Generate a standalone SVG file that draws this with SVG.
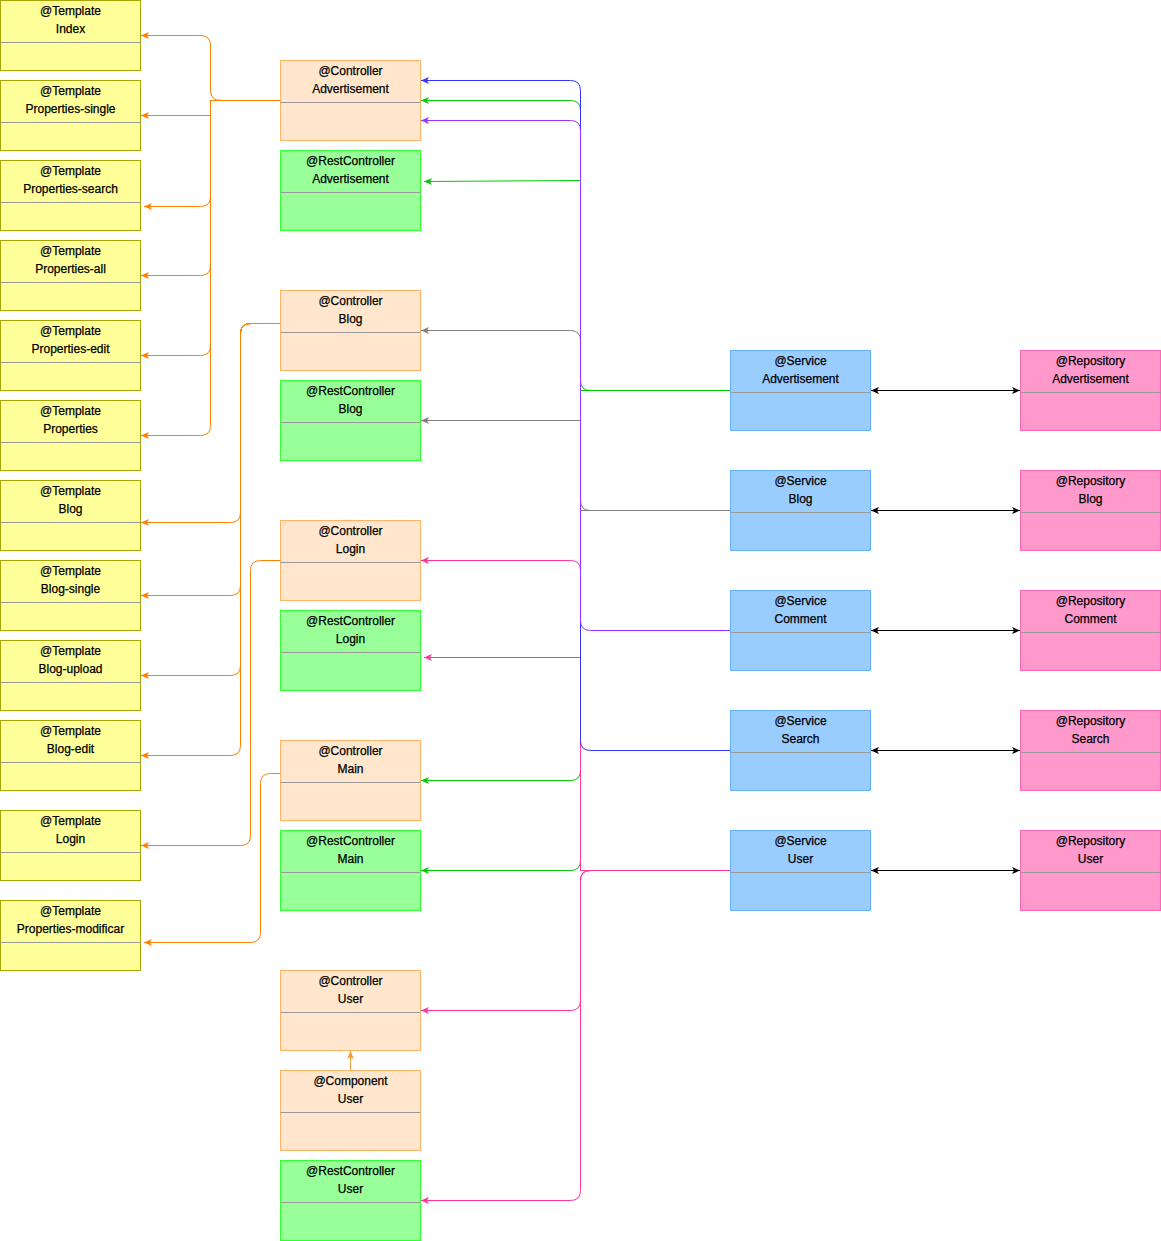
<svg xmlns="http://www.w3.org/2000/svg" width="1161" height="1241" viewBox="0 0 1161 1241">
<style>
  .n rect{stroke-width:1}
  .tpl rect{fill:#FFFF99;stroke:#A6A600}
  .ctl rect{fill:#FFE6CC;stroke:#FFB366}
  .rst rect{fill:#99FF99;stroke:#33FF33}
  .svc rect{fill:#99CCFF;stroke:#66B2FF}
  .rep rect{fill:#FF99CC;stroke:#FF66B3}
  .n line{stroke:#999999;stroke-width:1}
  .n text{font-family:"Liberation Sans",Arial,sans-serif;font-size:12px;fill:#000;stroke:#000;stroke-width:0.25;text-anchor:middle}
  #edges path{fill:none;stroke-width:1}
  .or{stroke:#FF8000}
  .gr{stroke:#00CC00}
  .gy{stroke:#808080}
  .pk{stroke:#FF3399}
  .bl{stroke:#3333FF}
  .pu{stroke:#9933FF}
  .bk{stroke:#000000}
  .lo{stroke:#FF9933}
</style>
<defs>
  <marker id="aOr" viewBox="0 0 8 8" refX="8" refY="4" markerWidth="8" markerHeight="8" markerUnits="userSpaceOnUse" orient="auto"><path d="M0,0.5 L8,4 L0,7.5 L2,4 Z" fill="#FF8000"/></marker>
  <marker id="aGr" viewBox="0 0 8 8" refX="8" refY="4" markerWidth="8" markerHeight="8" markerUnits="userSpaceOnUse" orient="auto"><path d="M0,0.5 L8,4 L0,7.5 L2,4 Z" fill="#00CC00"/></marker>
  <marker id="aGy" viewBox="0 0 8 8" refX="8" refY="4" markerWidth="8" markerHeight="8" markerUnits="userSpaceOnUse" orient="auto"><path d="M0,0.5 L8,4 L0,7.5 L2,4 Z" fill="#808080"/></marker>
  <marker id="aPk" viewBox="0 0 8 8" refX="8" refY="4" markerWidth="8" markerHeight="8" markerUnits="userSpaceOnUse" orient="auto"><path d="M0,0.5 L8,4 L0,7.5 L2,4 Z" fill="#FF3399"/></marker>
  <marker id="aBl" viewBox="0 0 8 8" refX="8" refY="4" markerWidth="8" markerHeight="8" markerUnits="userSpaceOnUse" orient="auto"><path d="M0,0.5 L8,4 L0,7.5 L2,4 Z" fill="#3333FF"/></marker>
  <marker id="aPu" viewBox="0 0 8 8" refX="8" refY="4" markerWidth="8" markerHeight="8" markerUnits="userSpaceOnUse" orient="auto"><path d="M0,0.5 L8,4 L0,7.5 L2,4 Z" fill="#9933FF"/></marker>
  <marker id="aBk" viewBox="0 0 8 8" refX="8" refY="4" markerWidth="8" markerHeight="8" markerUnits="userSpaceOnUse" orient="auto-start-reverse"><path d="M0,0.5 L8,4 L0,7.5 L2,4 Z" fill="#000000"/></marker>
  <marker id="aLo" viewBox="0 0 8 8" refX="8" refY="4" markerWidth="8" markerHeight="8" markerUnits="userSpaceOnUse" orient="auto"><path d="M0,0.5 L8,4 L0,7.5 L2,4 Z" fill="#FF9933"/></marker>
</defs>

<!-- Templates -->
<g id="t-index" class="n tpl"><rect x="0.5" y="0.5" width="140" height="70"/><line x1="0.5" y1="42.5" x2="140.5" y2="42.5"/><text x="70.5" y="15">@Template</text><text x="70.5" y="33">Index</text></g>
<g id="t-properties-single" class="n tpl"><rect x="0.5" y="80.5" width="140" height="70"/><line x1="0.5" y1="122.5" x2="140.5" y2="122.5"/><text x="70.5" y="95">@Template</text><text x="70.5" y="113">Properties-single</text></g>
<g id="t-properties-search" class="n tpl"><rect x="0.5" y="160.5" width="140" height="70"/><line x1="0.5" y1="202.5" x2="140.5" y2="202.5"/><text x="70.5" y="175">@Template</text><text x="70.5" y="193">Properties-search</text></g>
<g id="t-properties-all" class="n tpl"><rect x="0.5" y="240.5" width="140" height="70"/><line x1="0.5" y1="282.5" x2="140.5" y2="282.5"/><text x="70.5" y="255">@Template</text><text x="70.5" y="273">Properties-all</text></g>
<g id="t-properties-edit" class="n tpl"><rect x="0.5" y="320.5" width="140" height="70"/><line x1="0.5" y1="362.5" x2="140.5" y2="362.5"/><text x="70.5" y="335">@Template</text><text x="70.5" y="353">Properties-edit</text></g>
<g id="t-properties" class="n tpl"><rect x="0.5" y="400.5" width="140" height="70"/><line x1="0.5" y1="442.5" x2="140.5" y2="442.5"/><text x="70.5" y="415">@Template</text><text x="70.5" y="433">Properties</text></g>
<g id="t-blog" class="n tpl"><rect x="0.5" y="480.5" width="140" height="70"/><line x1="0.5" y1="522.5" x2="140.5" y2="522.5"/><text x="70.5" y="495">@Template</text><text x="70.5" y="513">Blog</text></g>
<g id="t-blog-single" class="n tpl"><rect x="0.5" y="560.5" width="140" height="70"/><line x1="0.5" y1="602.5" x2="140.5" y2="602.5"/><text x="70.5" y="575">@Template</text><text x="70.5" y="593">Blog-single</text></g>
<g id="t-blog-upload" class="n tpl"><rect x="0.5" y="640.5" width="140" height="70"/><line x1="0.5" y1="682.5" x2="140.5" y2="682.5"/><text x="70.5" y="655">@Template</text><text x="70.5" y="673">Blog-upload</text></g>
<g id="t-blog-edit" class="n tpl"><rect x="0.5" y="720.5" width="140" height="70"/><line x1="0.5" y1="762.5" x2="140.5" y2="762.5"/><text x="70.5" y="735">@Template</text><text x="70.5" y="753">Blog-edit</text></g>
<g id="t-login" class="n tpl"><rect x="0.5" y="810.5" width="140" height="70"/><line x1="0.5" y1="852.5" x2="140.5" y2="852.5"/><text x="70.5" y="825">@Template</text><text x="70.5" y="843">Login</text></g>
<g id="t-properties-modificar" class="n tpl"><rect x="0.5" y="900.5" width="140" height="70"/><line x1="0.5" y1="942.5" x2="140.5" y2="942.5"/><text x="70.5" y="915">@Template</text><text x="70.5" y="933">Properties-modificar</text></g>

<!-- Controllers -->
<g id="c-advertisement" class="n ctl"><rect x="280.5" y="60.5" width="140" height="80"/><line x1="280.5" y1="102.5" x2="420.5" y2="102.5"/><text x="350.5" y="75">@Controller</text><text x="350.5" y="93">Advertisement</text></g>
<g id="rc-advertisement" class="n rst"><rect x="280.5" y="150.5" width="140" height="80"/><line x1="280.5" y1="192.5" x2="420.5" y2="192.5"/><text x="350.5" y="165">@RestController</text><text x="350.5" y="183">Advertisement</text></g>
<g id="c-blog" class="n ctl"><rect x="280.5" y="290.5" width="140" height="80"/><line x1="280.5" y1="332.5" x2="420.5" y2="332.5"/><text x="350.5" y="305">@Controller</text><text x="350.5" y="323">Blog</text></g>
<g id="rc-blog" class="n rst"><rect x="280.5" y="380.5" width="140" height="80"/><line x1="280.5" y1="422.5" x2="420.5" y2="422.5"/><text x="350.5" y="395">@RestController</text><text x="350.5" y="413">Blog</text></g>
<g id="c-login" class="n ctl"><rect x="280.5" y="520.5" width="140" height="80"/><line x1="280.5" y1="562.5" x2="420.5" y2="562.5"/><text x="350.5" y="535">@Controller</text><text x="350.5" y="553">Login</text></g>
<g id="rc-login" class="n rst"><rect x="280.5" y="610.5" width="140" height="80"/><line x1="280.5" y1="652.5" x2="420.5" y2="652.5"/><text x="350.5" y="625">@RestController</text><text x="350.5" y="643">Login</text></g>
<g id="c-main" class="n ctl"><rect x="280.5" y="740.5" width="140" height="80"/><line x1="280.5" y1="782.5" x2="420.5" y2="782.5"/><text x="350.5" y="755">@Controller</text><text x="350.5" y="773">Main</text></g>
<g id="rc-main" class="n rst"><rect x="280.5" y="830.5" width="140" height="80"/><line x1="280.5" y1="872.5" x2="420.5" y2="872.5"/><text x="350.5" y="845">@RestController</text><text x="350.5" y="863">Main</text></g>
<g id="c-user" class="n ctl"><rect x="280.5" y="970.5" width="140" height="80"/><line x1="280.5" y1="1012.5" x2="420.5" y2="1012.5"/><text x="350.5" y="985">@Controller</text><text x="350.5" y="1003">User</text></g>
<g id="comp-user" class="n ctl"><rect x="280.5" y="1070.5" width="140" height="80"/><line x1="280.5" y1="1112.5" x2="420.5" y2="1112.5"/><text x="350.5" y="1085">@Component</text><text x="350.5" y="1103">User</text></g>
<g id="rc-user" class="n rst"><rect x="280.5" y="1160.5" width="140" height="80"/><line x1="280.5" y1="1202.5" x2="420.5" y2="1202.5"/><text x="350.5" y="1175">@RestController</text><text x="350.5" y="1193">User</text></g>

<!-- Services -->
<g id="s-advertisement" class="n svc"><rect x="730.5" y="350.5" width="140" height="80"/><line x1="730.5" y1="392.5" x2="870.5" y2="392.5"/><text x="800.5" y="365">@Service</text><text x="800.5" y="383">Advertisement</text></g>
<g id="s-blog" class="n svc"><rect x="730.5" y="470.5" width="140" height="80"/><line x1="730.5" y1="512.5" x2="870.5" y2="512.5"/><text x="800.5" y="485">@Service</text><text x="800.5" y="503">Blog</text></g>
<g id="s-comment" class="n svc"><rect x="730.5" y="590.5" width="140" height="80"/><line x1="730.5" y1="632.5" x2="870.5" y2="632.5"/><text x="800.5" y="605">@Service</text><text x="800.5" y="623">Comment</text></g>
<g id="s-search" class="n svc"><rect x="730.5" y="710.5" width="140" height="80"/><line x1="730.5" y1="752.5" x2="870.5" y2="752.5"/><text x="800.5" y="725">@Service</text><text x="800.5" y="743">Search</text></g>
<g id="s-user" class="n svc"><rect x="730.5" y="830.5" width="140" height="80"/><line x1="730.5" y1="872.5" x2="870.5" y2="872.5"/><text x="800.5" y="845">@Service</text><text x="800.5" y="863">User</text></g>

<!-- Repositories -->
<g id="r-advertisement" class="n rep"><rect x="1020.5" y="350.5" width="140" height="80"/><line x1="1020.5" y1="392.5" x2="1160.5" y2="392.5"/><text x="1090.5" y="365">@Repository</text><text x="1090.5" y="383">Advertisement</text></g>
<g id="r-blog" class="n rep"><rect x="1020.5" y="470.5" width="140" height="80"/><line x1="1020.5" y1="512.5" x2="1160.5" y2="512.5"/><text x="1090.5" y="485">@Repository</text><text x="1090.5" y="503">Blog</text></g>
<g id="r-comment" class="n rep"><rect x="1020.5" y="590.5" width="140" height="80"/><line x1="1020.5" y1="632.5" x2="1160.5" y2="632.5"/><text x="1090.5" y="605">@Repository</text><text x="1090.5" y="623">Comment</text></g>
<g id="r-search" class="n rep"><rect x="1020.5" y="710.5" width="140" height="80"/><line x1="1020.5" y1="752.5" x2="1160.5" y2="752.5"/><text x="1090.5" y="725">@Repository</text><text x="1090.5" y="743">Search</text></g>
<g id="r-user" class="n rep"><rect x="1020.5" y="830.5" width="140" height="80"/><line x1="1020.5" y1="872.5" x2="1160.5" y2="872.5"/><text x="1090.5" y="845">@Repository</text><text x="1090.5" y="863">User</text></g>

<g id="edges">
  <!-- orange: controllers to templates -->
  <path class="or" marker-end="url(#aOr)" d="M280,100.5 H220.5 Q210.5,100.5 210.5,90.5 V45.5 Q210.5,35.5 200.5,35.5 H141"/>
  <path class="or" marker-end="url(#aOr)" d="M280,100.5 H210.5 V115.5 H141"/>
  <path class="or" marker-end="url(#aOr)" d="M280,100.5 H210.5 V196.5 Q210.5,206.5 200.5,206.5 H144"/>
  <path class="or" marker-end="url(#aOr)" d="M280,100.5 H210.5 V265.5 Q210.5,275.5 200.5,275.5 H141"/>
  <path class="or" marker-end="url(#aOr)" d="M280,100.5 H210.5 V345.5 Q210.5,355.5 200.5,355.5 H141"/>
  <path class="or" marker-end="url(#aOr)" d="M280,100.5 H210.5 V425.5 Q210.5,435.5 200.5,435.5 H141"/>

  <path class="or" marker-end="url(#aOr)" d="M280,323.5 H250.5 Q240.5,323.5 240.5,333.5 V512.5 Q240.5,522.5 230.5,522.5 H141"/>
  <path class="or" marker-end="url(#aOr)" d="M280,323.5 H250.5 Q240.5,323.5 240.5,333.5 V585.5 Q240.5,595.5 230.5,595.5 H141"/>
  <path class="or" marker-end="url(#aOr)" d="M280,323.5 H250.5 Q240.5,323.5 240.5,333.5 V665.5 Q240.5,675.5 230.5,675.5 H141"/>
  <path class="or" marker-end="url(#aOr)" d="M280,323.5 H250.5 Q240.5,323.5 240.5,333.5 V745.5 Q240.5,755.5 230.5,755.5 H141"/>

  <path class="or" marker-end="url(#aOr)" d="M280,560.5 H260.5 Q250.5,560.5 250.5,570.5 V835.5 Q250.5,845.5 240.5,845.5 H141"/>
  <path class="or" marker-end="url(#aOr)" d="M280,773.5 H270.5 Q260.5,773.5 260.5,783.5 V932.5 Q260.5,942.5 250.5,942.5 H144"/>

  <!-- component to controller user -->
  <path class="lo" marker-end="url(#aLo)" d="M350.5,1070 V1051"/>

  <!-- green: service advertisement -->
  <path class="gr" marker-end="url(#aGr)" d="M730,390.5 H590.5 Q580.5,390.5 580.5,380.5 V110.5 Q580.5,100.5 570.5,100.5 H421"/>
  <path class="gr" marker-end="url(#aGr)" d="M730,390.5 H580.5 V180.5 L424,181.5"/>
  <path class="gr" marker-end="url(#aGr)" d="M730,390.5 H580.5 V770.5 Q580.5,780.5 570.5,780.5 H421"/>
  <path class="gr" marker-end="url(#aGr)" d="M730,390.5 H580.5 V860.5 Q580.5,870.5 570.5,870.5 H421"/>

  <!-- gray: service blog -->
  <path class="gy" marker-end="url(#aGy)" d="M730,510.5 H590.5 Q580.5,510.5 580.5,500.5 V340.5 Q580.5,330.5 570.5,330.5 H421"/>
  <path class="gy" marker-end="url(#aGy)" d="M730,510.5 H580.5 V420.5 H421"/>

  <!-- pink: service user -->
  <path class="pk" marker-end="url(#aPk)" d="M730,870.5 H580.5 V570.5 Q580.5,560.5 570.5,560.5 H421"/>
  <path class="pk" marker-end="url(#aPk)" d="M730,870.5 H580.5 V657.5 H424"/>
  <path class="pk" marker-end="url(#aPk)" d="M730,870.5 H590.5 Q580.5,870.5 580.5,880.5 V1000.5 Q580.5,1010.5 570.5,1010.5 H421"/>
  <path class="pk" marker-end="url(#aPk)" d="M730,870.5 H590.5 Q580.5,870.5 580.5,880.5 V1190.5 Q580.5,1200.5 570.5,1200.5 H421"/>

  <!-- blue: service search -->
  <path class="bl" marker-end="url(#aBl)" d="M730,750.5 H590.5 Q580.5,750.5 580.5,740.5 V90.5 Q580.5,80.5 570.5,80.5 H421"/>

  <!-- purple: service comment -->
  <path class="pu" marker-end="url(#aPu)" d="M730,630.5 H590.5 Q580.5,630.5 580.5,620.5 V130.5 Q580.5,120.5 570.5,120.5 H421"/>

  <!-- black: service <-> repository -->
  <path class="bk" marker-start="url(#aBk)" marker-end="url(#aBk)" d="M871,390.5 H1020"/>
  <path class="bk" marker-start="url(#aBk)" marker-end="url(#aBk)" d="M871,510.5 H1020"/>
  <path class="bk" marker-start="url(#aBk)" marker-end="url(#aBk)" d="M871,630.5 H1020"/>
  <path class="bk" marker-start="url(#aBk)" marker-end="url(#aBk)" d="M871,750.5 H1020"/>
  <path class="bk" marker-start="url(#aBk)" marker-end="url(#aBk)" d="M871,870.5 H1020"/>
</g>
</svg>
